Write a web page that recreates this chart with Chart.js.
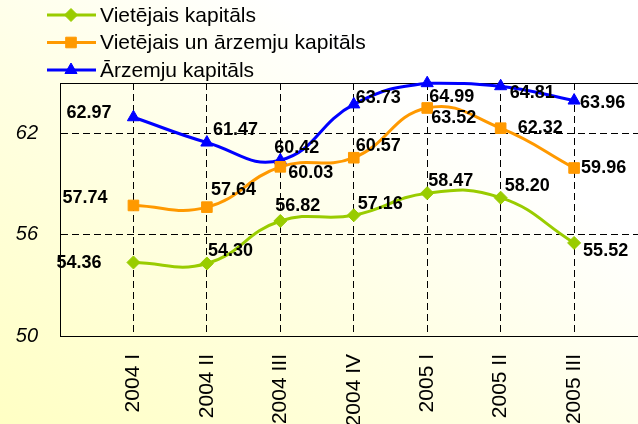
<!DOCTYPE html>
<html>
<head>
<meta charset="utf-8">
<script src="https://cdn.jsdelivr.net/npm/chart.js@4.4.1/dist/chart.umd.min.js"></script>
<style>
body{margin:0;}
#wrap{width:638px;height:424px;background:linear-gradient(to top right,#ffffc4 0%,#ffffe2 40%,#ffffff 72%);}
</style>
</head>
<body>
<div id="wrap"><canvas id="grafiks"></canvas></div>
<script>
const kvartali=['2004 I','2004 II','2004 III','2004 IV','2005 I','2005 II','2005 III'];
const vietejais=[54.36,54.30,56.82,57.16,58.47,58.20,55.52];
const jaukts=[57.74,57.64,60.03,60.57,63.52,62.32,59.96];
const arzemju=[62.97,61.47,60.42,63.73,64.99,64.81,63.96];
const yTicks=[50,56,62];
const nosaukumi=['Vietējais kapitāls','Vietējais un ārzemju kapitāls','Ārzemju kapitāls'];

// kur likt skaitlus pie punktiem: [dx līdz teksta sākumam, dy līdz teksta vidum]
const nobVietejais=[[-77,1],[1,-12],[-5,-15],[4,-11],[1,-12],[4,-12],[9,8]];
const nobJaukts=[[-71,-7],[4,-17],[8,6],[2,-12],[4,10],[17,0],[7,0]];
const nobArzemju=[[-67,-4],[6,-13],[-6,-12],[2,-6],[2,14],[9,7],[6,2]];

function punkti(arr){
    return arr.map((v,i)=>({x:i+1,y:v}));
}

const skaitli={
    id:'skaitli',
    afterDatasetsDraw(chart){
        const ctx=chart.ctx;
        ctx.save();
        ctx.font='bold 18px "Liberation Sans", Arial, sans-serif';
        ctx.fillStyle='#000';
        ctx.textAlign='left';
        ctx.textBaseline='middle';
        chart.data.datasets.forEach((ds,d)=>{
            const meta=chart.getDatasetMeta(d);
            meta.data.forEach((p,i)=>{
                const o=ds.nobides[i];
                ctx.fillText(ds.data[i].y.toFixed(2),p.x+o[0],p.y+o[1]);
            });
        });
        ctx.restore();
    }
};

const ramis={
    id:'ramis',
    beforeDatasetsDraw(chart){
        const a=chart.chartArea, ctx=chart.ctx;
        ctx.save();
        ctx.strokeStyle='#000';
        ctx.lineWidth=1;
        ctx.beginPath();
        ctx.moveTo(a.left,a.top+0.5);
        ctx.lineTo(a.right,a.top+0.5);
        ctx.stroke();
        ctx.restore();
    }
};

const legenda={
    id:'legenda',
    afterDraw(chart){
        const ctx=chart.ctx;
        chart.data.datasets.forEach((ds,i)=>{
            const y=15+27.5*i;
            ctx.save();
            ctx.strokeStyle=ds.borderColor;
            ctx.fillStyle=ds.borderColor;
            ctx.lineWidth=3;
            ctx.beginPath();
            ctx.moveTo(47,y);
            ctx.lineTo(96,y);
            ctx.stroke();
            ctx.lineWidth=1;
            Chart.helpers.drawPoint(ctx,{pointStyle:ds.pointStyle,radius:ds.pointRadius,rotation:0,borderWidth:1},71,y);
            ctx.fillStyle='#000';
            ctx.font='21px "Liberation Sans", Arial, sans-serif';
            ctx.textAlign='left';
            ctx.textBaseline='middle';
            ctx.fillText(ds.label,100,y+1);
            ctx.restore();
        });
    }
};

function inicio(){
    const ctx=document.getElementById('grafiks').getContext('2d');
    new Chart(ctx,{
        type:'line',
        data:{
            datasets:[{
                label:nosaukumi[0],
                data:punkti(vietejais),
                nobides:nobVietejais,
                borderColor:'#99cc00',
                backgroundColor:'#99cc00',
                pointStyle:'rectRot',
                pointRadius:6.5
            },{
                label:nosaukumi[1],
                data:punkti(jaukts),
                nobides:nobJaukts,
                borderColor:'#ff9900',
                backgroundColor:'#ff9900',
                pointStyle:'rect',
                pointRadius:7.5
            },{
                label:nosaukumi[2],
                data:punkti(arzemju),
                nobides:nobArzemju,
                borderColor:'#0000ff',
                backgroundColor:'#0000ff',
                pointStyle:'triangle',
                pointRadius:7
            }]
        },
        options:{
            responsive:true,
            maintainAspectRatio:false,
            animation:false,
            layout:{autoPadding:false,padding:{top:83,left:16,right:0,bottom:0}},
            elements:{
                line:{borderWidth:3,tension:0.45,fill:false},
                point:{borderWidth:1,hoverRadius:7}
            },
            datasets:{line:{clip:false}},
            plugins:{
                legend:{display:false},
                tooltip:{enabled:false}
            },
            scales:{
                x:{
                    type:'linear',
                    min:0,
                    max:7.87,
                    afterBuildTicks:s=>{s.ticks=kvartali.map((k,i)=>({value:i+1}));},
                    afterFit:s=>{s.height=88;s.paddingLeft=0;s.paddingRight=0;},
                    grid:{color:'#000',lineWidth:1,drawTicks:false},
                    border:{display:true,color:'#000',width:1,dash:[7,4]},
                    ticks:{
                        autoSkip:false,
                        minRotation:90,
                        maxRotation:90,
                        padding:18,
                        color:'#000',
                        font:{family:'"Liberation Sans", Arial, sans-serif',size:21},
                        callback:v=>kvartali[v-1]
                    }
                },
                y:{
                    min:50,
                    max:65,
                    afterBuildTicks:s=>{s.ticks=yTicks.map(v=>({value:v}));},
                    afterFit:s=>{s.width=44;s.paddingTop=0;s.paddingBottom=0;},
                    grid:{color:'#000',lineWidth:1,drawTicks:false},
                    border:{display:true,color:'#000',width:1,dash:[7,4]},
                    ticks:{
                        padding:22,
                        color:'#000',
                        font:{family:'"Liberation Sans", Arial, sans-serif',size:20,style:'italic'}
                    }
                }
            }
        },
        plugins:[ramis,skaitli,legenda]
    });
}
window.onload=inicio;
</script>
</body>
</html>
